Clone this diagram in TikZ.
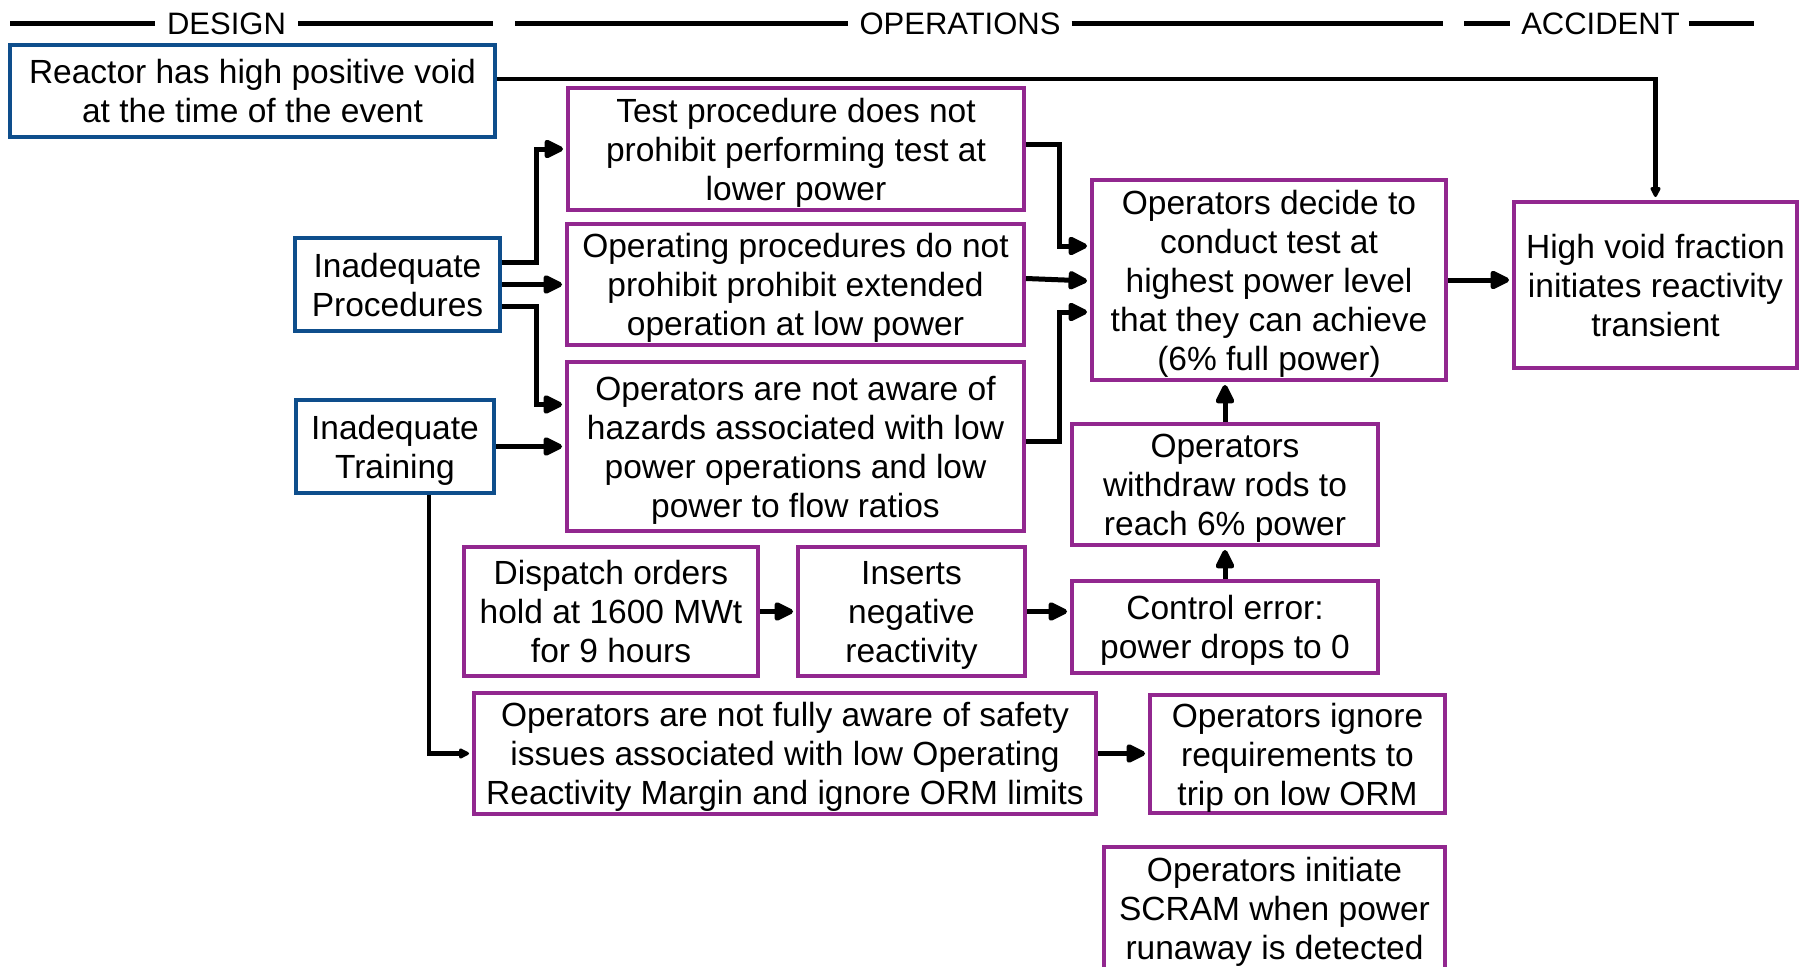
\documentclass[tikz,border=0pt]{standalone}
\usepackage{fontspec}
\setmainfont{Liberation Sans}
\usetikzlibrary{arrows.meta,calc}
\definecolor{dblue}{RGB}{14,78,140}
\definecolor{dpurple}{RGB}{146,39,143}
\tikzset{
  bx/.style={draw, line width=4pt, inner sep=0pt, align=center, fill=white, text depth=0pt,
    font=\fontsize{33.5}{39}\selectfont},
  bluebox/.style={bx, draw=dblue},
  purplebox/.style={bx, draw=dpurple},
  conn/.style={line width=5pt, shorten >=3pt, -{Triangle[length=22pt,width=20pt,round]}},
  thinconn/.style={line width=4.5pt, shorten >=3pt, -{Triangle[length=12pt,width=11pt,round]}},
  hdr/.style={line width=5pt},
  hdrtext/.style={inner sep=0pt, font=\fontsize{31}{36}\selectfont},
}
\begin{document}
\begin{tikzpicture}[x=1pt,y=-1pt]
\useasboundingbox (0,0) rectangle (1806,966);
\fill[white] (0,0) rectangle (1806,966);

% header
\node[hdrtext] (design) at (226.5,24) {DESIGN};
\node[hdrtext] (ops) at (960,24) {OPERATIONS};
\node[hdrtext] (acc) at (1600.5,24) {ACCIDENT};
\coordinate (h1) at (10,24);
\coordinate (h2) at (493,24);
\coordinate (h3) at (515,24);
\coordinate (h4) at (1443,24);
\coordinate (h5) at (1464,24);
\coordinate (h6) at (1754,24);
\draw[hdr] (h1) -- ([xshift=-12pt]design.west);
\draw[hdr] ([xshift=12pt]design.east) -- (h2);
\draw[hdr] (h3) -- ([xshift=-11pt]ops.west);
\draw[hdr] ([xshift=11pt]ops.east) -- (h4);
\draw[hdr] (h5) -- ([xshift=-11pt]acc.west);
\draw[hdr] ([xshift=9pt]acc.east) -- (h6);

% boxes
\node[bluebox, minimum width=485pt, minimum height=92pt] (reactor) at (252.5,91) {Reactor has high positive void\\at the time of the event};
\node[purplebox, minimum width=456pt, minimum height=122pt] (testproc) at (796,149) {Test procedure does not\\prohibit performing test at\\lower power};
\node[purplebox, minimum width=457pt, minimum height=121pt] (opproc) at (795.5,284.5) {Operating procedures do not\\prohibit prohibit extended\\operation at low power};
\node[purplebox, minimum width=457pt, minimum height=169pt] (notaware) at (795.5,446.5) {Operators are not aware of\\hazards associated with low\\power operations and low\\power to flow ratios};
\node[bluebox, minimum width=205pt, minimum height=93pt] (inproc) at (397.5,284.5) {Inadequate\\Procedures};
\node[bluebox, minimum width=198pt, minimum height=93pt] (intrain) at (395,446.5) {Inadequate\\Training};
\node[purplebox, minimum width=354pt, minimum height=200pt] (decide) at (1269,280) {Operators decide to\\conduct test at\\highest power level\\that they can achieve\\(6\% full power)};
\node[purplebox, minimum width=283pt, minimum height=166pt] (highvoid) at (1655.5,285) {High void fraction\\initiates reactivity\\transient};
\node[purplebox, minimum width=306pt, minimum height=121pt] (withdraw) at (1225,484.5) {Operators\\withdraw rods to\\reach 6\% power};
\node[purplebox, minimum width=306pt, minimum height=92pt] (control) at (1225,627) {Control error:\\power drops to 0};
\node[purplebox, minimum width=294pt, minimum height=129pt] (dispatch) at (611,611.5) {Dispatch orders\\hold at 1600 MWt\\for 9 hours};
\node[purplebox, minimum width=227pt, minimum height=129pt] (inserts) at (911.5,611.5) {Inserts\\negative\\reactivity};
\node[purplebox, minimum width=622pt, minimum height=121pt] (notfully) at (785,753.5) {Operators are not fully aware of safety\\issues associated with low Operating\\Reactivity Margin and ignore ORM limits};
\node[purplebox, minimum width=295pt, minimum height=118pt] (ignore) at (1297.5,754) {Operators ignore\\requirements to\\trip on low ORM};
\node[purplebox, minimum width=341pt, minimum height=122pt] (scram) at (1274.5,908) {Operators initiate\\SCRAM when power\\runaway is detected};

% connectors
\draw[thinconn] ([yshift=12pt]reactor.east) -| (highvoid.north);
\draw[conn] ([yshift=22pt]inproc.east) -- ++(34,0) |- (testproc.west);
\draw[conn] (inproc.east) -- (opproc.west);
\draw[conn] ([yshift=-22pt]inproc.east) -- ++(34,0) |- ([yshift=42pt]notaware.west);
\draw[conn] (intrain.east) -- (notaware.west);
\draw[conn] ([yshift=5pt]testproc.east) -- ++(33,0) |- ([yshift=34pt]decide.west);
\draw[conn] ([yshift=6pt]opproc.east) -- ([yshift=-1pt]decide.west);
\draw[conn] ([yshift=5pt]notaware.east) -- ++(33,0) |- ([yshift=-32pt]decide.west);
\draw[conn] (decide.east) -- (decide.east -| highvoid.west);
\draw[conn] (withdraw.north) -- (withdraw.north |- decide.south);
\draw[conn] (control.north) -- (control.north |- withdraw.south);
\draw[conn] (dispatch.east) -- (inserts.west);
\draw[conn] (inserts.east) -- (inserts.east -| control.west);
\draw[conn] (notfully.east) -- (notfully.east -| ignore.west);
\draw[thinconn] ([xshift=34pt]intrain.south) |- (notfully.west);
\end{tikzpicture}
\end{document}
